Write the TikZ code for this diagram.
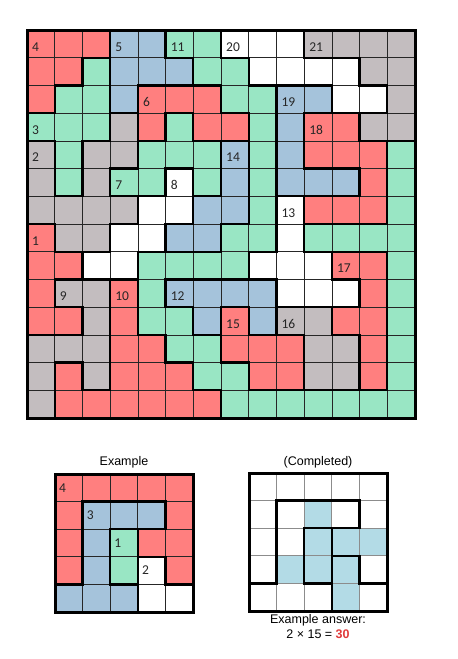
\documentclass[tikz,border=0pt]{standalone}
\usepackage{fontspec}
\setmainfont{Liberation Sans}
\newfontfamily\cellfont{Carlito}

\definecolor{shade1}{HTML}{FF7F7F}
\definecolor{shade2}{HTML}{A5C3DB}
\definecolor{shade3}{HTML}{99E6C4}
\definecolor{shade4}{HTML}{C3BDBF}
\definecolor{shade5}{HTML}{FFFFFF}
\definecolor{done0}{HTML}{FFFFFF}
\definecolor{done1}{HTML}{B3DBE6}
\definecolor{answer}{HTML}{E03A3A}

\tikzset{
  cell/.style={draw=black!85,line width=0.7pt},
  wall/.style={draw=black,line width=2.4pt,line cap=rect},
  num/.style={anchor=base west,inner sep=0pt,font=\cellfont\fontsize{13.5}{15}\selectfont,text=black!85},
  caption/.style={anchor=base,inner sep=0pt,font=\fontsize{12.5}{15}\selectfont}
}

% 1 red, 2 blue, 3 green, 4 grey, 5 white
\def\board{{1,1,1,2,2,3,3,5,5,5,4,4,4,4,
1,1,3,2,2,2,3,3,5,5,5,5,4,4,
1,3,3,2,1,1,1,3,3,2,2,5,5,4,
3,3,3,4,1,3,1,1,3,2,1,1,4,4,
4,3,4,4,3,3,3,2,3,2,1,1,1,3,
4,3,4,3,3,5,3,2,3,2,2,2,1,3,
4,4,4,4,5,5,2,2,3,5,1,1,1,3,
1,4,4,5,5,2,2,3,3,5,3,3,3,3,
1,1,5,5,3,3,3,3,5,5,5,1,1,3,
1,4,4,1,3,2,2,2,2,5,5,5,1,3,
1,1,4,1,3,3,2,1,2,4,4,1,1,3,
4,4,4,1,1,3,3,1,1,1,4,4,1,3,
4,1,4,1,1,1,3,3,1,1,4,4,1,3,
4,1,1,1,1,1,1,3,3,3,3,3,3,3}}
\def\sample{{1,1,1,1,1,1,2,2,2,1,1,2,3,1,1,1,2,3,5,1,2,2,2,5,5}}
\def\done{{0,0,0,0,0,0,0,1,0,0,0,0,1,1,1,0,1,1,1,0,0,0,0,1,0}}

\begin{document}
\begin{tikzpicture}[x=1pt,y=-1pt]
\useasboundingbox (0,0) rectangle (458,659);
\def\s{27.714}
\def\t{27.6}

% big puzzle
\foreach \r in {0,...,13}{
  \foreach \c in {0,...,13}{
    \pgfmathtruncatemacro\k{\board[\r*14+\c]}
    \path[cell,fill=shade\k] ({27+\c*\s},{30+\r*\s}) rectangle ++(\s,\s);
  }
}
\foreach \r in {0,...,13}{
  \foreach \c in {0,...,12}{
    \pgfmathtruncatemacro\ka{\board[\r*14+\c]}
    \pgfmathtruncatemacro\kb{\board[\r*14+\c+1]}
    \ifnum\ka=\kb\else\draw[wall] ({27+(\c+1)*\s},{30+\r*\s}) -- ++(0,\s);\fi
    \pgfmathtruncatemacro\ka{\board[\c*14+\r]}
    \pgfmathtruncatemacro\kb{\board[(\c+1)*14+\r]}
    \ifnum\ka=\kb\else\draw[wall] ({27+\r*\s},{30+(\c+1)*\s}) -- ++(\s,0);\fi
  }
}
\draw[wall,line width=3pt] (27,30) rectangle (415,418);
\foreach \lab/\r/\c in {4/0/0,5/0/3,11/0/5,20/0/7,21/0/10,6/2/4,19/2/9,3/3/0,18/3/10,
  2/4/0,14/4/7,7/5/3,8/5/5,13/6/9,1/7/0,17/8/11,9/9/1,10/9/3,12/9/5,15/10/7,16/10/9}
  \node[num] (n\lab) at ({27+5+\c*\s},{30+21+\r*\s}) {\lab};

% example and completed
\foreach \r in {0,...,4}{
  \foreach \c in {0,...,4}{
    \pgfmathtruncatemacro\k{\sample[\r*5+\c]}
    \path[cell,fill=shade\k] ({55+\c*\t},{474+\r*\t}) rectangle ++(\t,\t);
    \pgfmathtruncatemacro\k{\done[\r*5+\c]}
    \path[cell,draw=black!45,fill=done\k] ({249+\c*\t},{473+\r*\t}) rectangle ++(\t,\t);
  }
}
\foreach \ox/\oy in {55/474,249/473}{
  \foreach \r in {0,...,4}{
    \foreach \c in {0,...,3}{
      \pgfmathtruncatemacro\ka{\sample[\r*5+\c]}
      \pgfmathtruncatemacro\kb{\sample[\r*5+\c+1]}
      \ifnum\ka=\kb\else\draw[wall] ({\ox+(\c+1)*\t},{\oy+\r*\t}) -- ++(0,\t);\fi
      \pgfmathtruncatemacro\ka{\sample[\c*5+\r]}
      \pgfmathtruncatemacro\kb{\sample[(\c+1)*5+\r]}
      \ifnum\ka=\kb\else\draw[wall] ({\ox+\r*\t},{\oy+(\c+1)*\t}) -- ++(\t,0);\fi
    }
  }
  \draw[wall,line width=3pt] (\ox,\oy) rectangle ++(5*\t,5*\t);
}
\foreach \lab/\r/\c in {4/0/0,3/1/1,1/2/2,2/3/3}
  \node[num] (e\lab) at ({55+4+\c*\t},{474+18+\r*\t}) {\lab};

\node[caption] (example) at (124,465) {Example};
\node[caption] (completed) at (318,465) {(Completed)};
\node[caption] (answer) at (318,623) {Example answer:};
\node[caption] (product) at (318,638) {2 × 15 = \textbf{\color{answer}30}};
\end{tikzpicture}
\end{document}
